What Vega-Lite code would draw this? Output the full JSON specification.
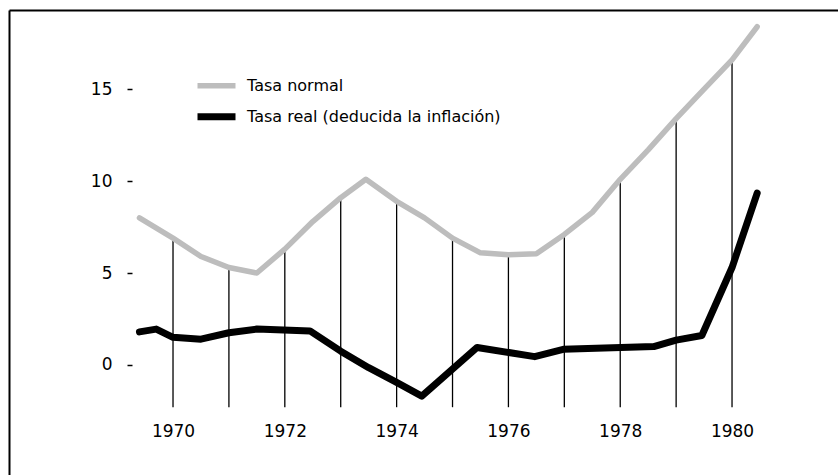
{
  "$schema": "https://vega.github.io/schema/vega-lite/v6.json",
  "width": 835,
  "height": 470,
  "autosize": "none",
  "padding": {"left": 9, "top": 10, "right": -6, "bottom": -5},
  "background": "white",
  "config": {
    "view": {"stroke": null},
    "font": "DejaVu Sans"
  },
  "data": {
    "values": [
      {"year": 1969.4, "series": "Tasa normal", "value": 8.0},
      {"year": 1970, "series": "Tasa normal", "value": 6.9},
      {"year": 1970.5, "series": "Tasa normal", "value": 5.9},
      {"year": 1971, "series": "Tasa normal", "value": 5.3},
      {"year": 1971.5, "series": "Tasa normal", "value": 5.0},
      {"year": 1972, "series": "Tasa normal", "value": 6.3},
      {"year": 1972.5, "series": "Tasa normal", "value": 7.8},
      {"year": 1973, "series": "Tasa normal", "value": 9.1},
      {"year": 1973.45, "series": "Tasa normal", "value": 10.1},
      {"year": 1974, "series": "Tasa normal", "value": 8.9},
      {"year": 1974.5, "series": "Tasa normal", "value": 8.0},
      {"year": 1975, "series": "Tasa normal", "value": 6.9},
      {"year": 1975.5, "series": "Tasa normal", "value": 6.1},
      {"year": 1976, "series": "Tasa normal", "value": 6.0},
      {"year": 1976.5, "series": "Tasa normal", "value": 6.05},
      {"year": 1977, "series": "Tasa normal", "value": 7.1},
      {"year": 1977.5, "series": "Tasa normal", "value": 8.3},
      {"year": 1978, "series": "Tasa normal", "value": 10.1},
      {"year": 1978.5, "series": "Tasa normal", "value": 11.7},
      {"year": 1979, "series": "Tasa normal", "value": 13.4},
      {"year": 1979.5, "series": "Tasa normal", "value": 15.0},
      {"year": 1980, "series": "Tasa normal", "value": 16.6},
      {"year": 1980.45, "series": "Tasa normal", "value": 18.4},
      {"year": 1969.4, "series": "Tasa real (deducida la inflación)", "value": 1.8},
      {"year": 1969.7, "series": "Tasa real (deducida la inflación)", "value": 1.95},
      {"year": 1970, "series": "Tasa real (deducida la inflación)", "value": 1.5},
      {"year": 1970.5, "series": "Tasa real (deducida la inflación)", "value": 1.4},
      {"year": 1971, "series": "Tasa real (deducida la inflación)", "value": 1.75},
      {"year": 1971.5, "series": "Tasa real (deducida la inflación)", "value": 1.95},
      {"year": 1972.45, "series": "Tasa real (deducida la inflación)", "value": 1.85},
      {"year": 1973, "series": "Tasa real (deducida la inflación)", "value": 0.75},
      {"year": 1973.5, "series": "Tasa real (deducida la inflación)", "value": -0.15},
      {"year": 1974, "series": "Tasa real (deducida la inflación)", "value": -0.95},
      {"year": 1974.45, "series": "Tasa real (deducida la inflación)", "value": -1.7},
      {"year": 1975.44, "series": "Tasa real (deducida la inflación)", "value": 0.95},
      {"year": 1976.47, "series": "Tasa real (deducida la inflación)", "value": 0.45},
      {"year": 1976.98, "series": "Tasa real (deducida la inflación)", "value": 0.85},
      {"year": 1978.6, "series": "Tasa real (deducida la inflación)", "value": 1.0},
      {"year": 1979.0, "series": "Tasa real (deducida la inflación)", "value": 1.35},
      {"year": 1979.46, "series": "Tasa real (deducida la inflación)", "value": 1.6},
      {"year": 1980, "series": "Tasa real (deducida la inflación)", "value": 5.3},
      {"year": 1980.45, "series": "Tasa real (deducida la inflación)", "value": 9.35}
    ]
  },
  "resolve": {"axis": {"x": "independent", "y": "independent"}},
  "layer": [
    {
      "transform": [
        {"filter": "datum.series == 'Tasa normal' && datum.year % 1 == 0"}
      ],
      "mark": {"type": "rule", "color": "black", "strokeWidth": 1.3},
      "encoding": {
        "x": {
          "field": "year",
          "type": "quantitative",
          "scale": {"domain": [1967.066, 1982.003], "nice": false, "zero": false},
          "axis": {
            "orient": "bottom",
            "values": [1970, 1972, 1974, 1976, 1978, 1980],
            "format": "d",
            "title": null,
            "grid": false,
            "domain": false,
            "ticks": false,
            "labelPadding": 8,
            "offset": -65,
            "labelFont": "DejaVu Sans",
            "labelFontSize": 17,
            "labelColor": "black"
          }
        },
        "y": {
          "field": "value",
          "type": "quantitative",
          "scale": {"domain": [-6.26, 19.31], "nice": false, "zero": false},
          "axis": {
            "orient": "left",
            "values": [0, 5, 10, 15],
            "title": null,
            "grid": false,
            "domain": false,
            "ticks": true,
            "tickSize": 5,
            "tickWidth": 1.5,
            "tickColor": "black",
            "labelPadding": 15,
            "offset": -123,
            "labelFont": "DejaVu Sans",
            "labelFontSize": 17,
            "labelColor": "black"
          }
        },
        "y2": {"datum": -2.3}
      }
    },
    {
      "mark": {"type": "line", "strokeCap": "round", "strokeJoin": "round"},
      "encoding": {
        "x": {
          "field": "year",
          "type": "quantitative",
          "scale": {"domain": [1967.066, 1982.003], "nice": false, "zero": false},
          "axis": {
            "orient": "top",
            "title": null,
            "grid": false,
            "labels": false,
            "ticks": false,
            "domain": true,
            "domainColor": "black",
            "domainWidth": 2,
            "offset": 0
          }
        },
        "y": {
          "field": "value",
          "type": "quantitative",
          "scale": {"domain": [-6.26, 19.31], "nice": false, "zero": false},
          "axis": {
            "orient": "left",
            "title": null,
            "grid": false,
            "labels": false,
            "ticks": false,
            "domain": true,
            "domainColor": "black",
            "domainWidth": 2,
            "offset": 0
          }
        },
        "color": {
          "field": "series",
          "type": "nominal",
          "scale": {
            "domain": ["Tasa normal", "Tasa real (deducida la inflación)"],
            "range": ["#bdbdbd", "#000000"]
          },
          "legend": {
            "title": null,
            "orient": "none",
            "legendX": 185,
            "legendY": 67.7,
            "padding": 0,
            "symbolType": "stroke",
            "symbolSize": 1444,
            "clipHeight": 16,
            "rowPadding": 15,
            "labelOffset": 8,
            "labelFont": "DejaVu Sans",
            "labelFontSize": 16,
            "labelColor": "black",
            "labelLimit": 400,
            "encode": {
              "symbols": {
                "update": {
                  "strokeWidth": {"signal": "datum.value == 'Tasa normal' ? 3 : 6"}
                }
              }
            }
          }
        },
        "strokeWidth": {
          "field": "series",
          "type": "ordinal",
          "scale": {
            "domain": ["Tasa normal", "Tasa real (deducida la inflación)"],
            "range": [5.5, 7]
          },
          "legend": null
        },
        "order": {"field": "year", "type": "quantitative"}
      }
    }
  ]
}
